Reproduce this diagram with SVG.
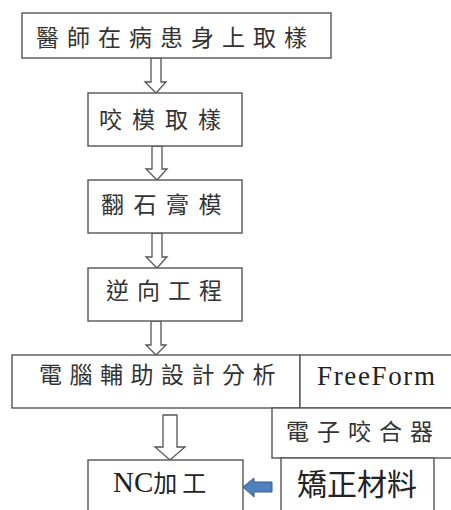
<svg xmlns="http://www.w3.org/2000/svg" width="451" height="510" viewBox="0 0 451 510">
<style>
.box{fill:#fff;stroke:#555;stroke-width:1.4}
.t{font-family:"Noto Sans CJK TC","Liberation Serif",serif;font-size:23px;fill:#333}
.s{font-family:"Liberation Serif","Noto Sans CJK TC",serif;fill:#222}
.h{fill:#fff;stroke:#555;stroke-width:1.3}
</style>
<rect width="451" height="510" fill="#fff"/>
<g id="connectors">
<polygon class="h" points="151,58 161,58 161,82 166,82 156,93 145,82 151,82"/>
<polygon class="h" points="152,146 162,146 162,169 167,169 157,180 146,169 152,169"/>
<polygon class="h" points="152,233 162,233 162,257 167,257 157,268 146,257 152,257"/>
<polygon class="h" points="151,321 161,321 161,345 166,345 156,355 146,345 151,345"/>
<polygon class="h" points="163,415 177,415 177,447 185,447 170,460 155,447 163,447"/>
<polygon fill="#4F81BD" stroke="#385D8A" stroke-width="1" points="243,487 254,478 254,482 272,482 272,492 254,492 254,497"/>
</g>
<g id="n1"><rect class="box" x="22" y="13" width="309" height="45"/><text class="t" x="36" y="46" letter-spacing="8">醫師在病患身上取樣</text></g>
<g id="n2"><rect class="box" x="88" y="93" width="154" height="53"/><text class="t" x="99" y="128" letter-spacing="10">咬模取樣</text></g>
<g id="n3"><rect class="box" x="88" y="180" width="154" height="53"/><text class="t" x="101" y="213" letter-spacing="9.5">翻石膏模</text></g>
<g id="n4"><rect class="box" x="88" y="268" width="154" height="53"/><text class="t" x="106" y="299" letter-spacing="8">逆向工程</text></g>
<g id="n5"><rect class="box" x="12" y="355" width="288" height="53"/><text class="t" x="39" y="383" letter-spacing="7.5">電腦輔助設計分析</text></g>
<g id="n6"><rect class="box" x="300" y="355" width="160" height="53"/><text class="s" x="317" y="385" font-size="27" textLength="118" lengthAdjust="spacing">FreeForm</text></g>
<g id="n7"><rect class="box" x="272" y="408" width="190" height="50"/><text class="t" x="286" y="440" letter-spacing="8">電子咬合器</text></g>
<g id="n8"><rect class="box" x="88" y="460" width="155" height="60"/><text class="s" x="113" y="492"><tspan font-size="29">NC</tspan><tspan font-size="24" letter-spacing="5" font-family="Noto Sans CJK TC, serif">加工</tspan></text></g>
<g id="n9"><rect class="box" x="281" y="458" width="153" height="62"/><text x="297" y="495" font-family="Noto Sans CJK TC, sans-serif" font-size="30" fill="#222">矯正材料</text></g>
</svg>
